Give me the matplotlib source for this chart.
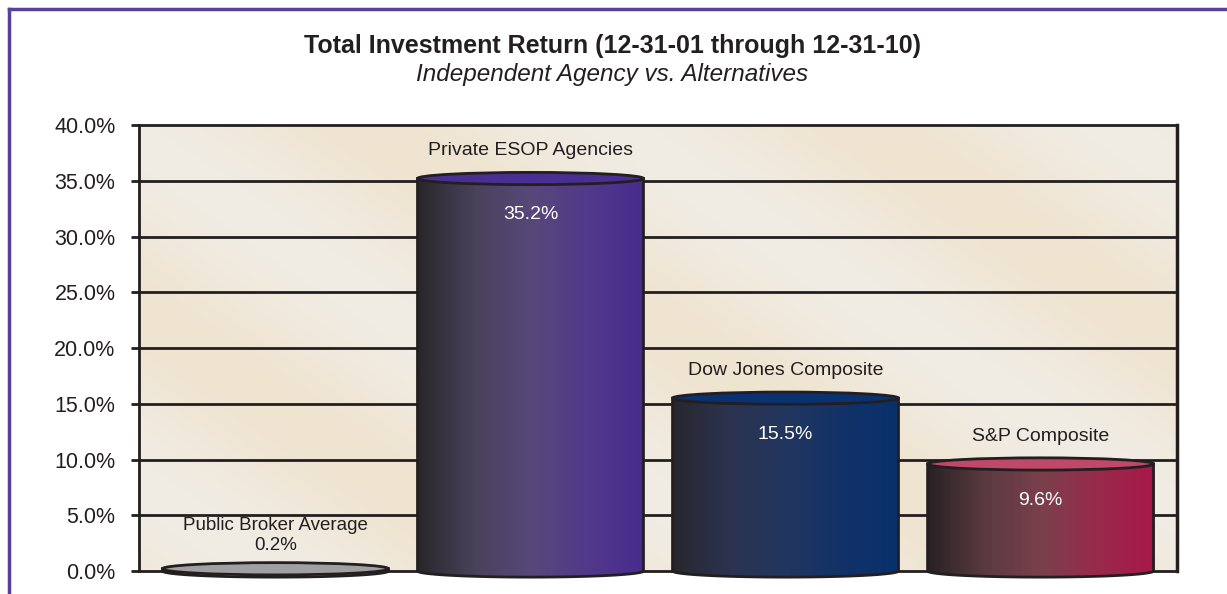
import numpy as np
import matplotlib
matplotlib.use("Agg")
import matplotlib.pyplot as plt
from matplotlib.patches import Ellipse, PathPatch
from matplotlib.path import Path
from matplotlib.colors import LinearSegmentedColormap, to_rgb
from matplotlib.lines import Line2D

plt.rcParams['font.family'] = ['Liberation Sans', 'DejaVu Sans']

categories = ['Public Broker Average', 'Private ESOP Agencies',
              'Dow Jones Composite', 'S&P Composite']
values = [0.2, 35.2, 15.5, 9.6]
value_labels = ['0.2%', '35.2%', '15.5%', '9.6%']
yticks = [0, 5, 10, 15, 20, 25, 30, 35, 40]

# gradient (left -> right) and top colour for each cylinder
grads = [['#5a5a5e', '#9a9a9c', '#a3a3a5'],
         ['#29272b', '#48425a', '#574879', '#52398a', '#472c8e'],
         ['#27272d', '#2c3350', '#22365e', '#123268', '#08306c'],
         ['#282124', '#5a3a40', '#7a404c', '#982a4b', '#a8184a']]
tops = ['#a0a0a2', '#4a2f93', '#0a3272', '#c2486a']
edge = '#231f20'

fig = plt.figure(figsize=(12.27, 5.94), dpi=100, facecolor='w')
W, H = 1227, 594
# axes reach a little below 0 so the cylinder bottoms are not cut off
ymin = -1.0
pxu = (571-125)/40
ax = fig.add_axes([139/W, (H-571-pxu*(-ymin))/H, (1177-139)/W, (571-125+pxu*(-ymin))/H])
ax.set_xlim(-0.535, 3.535)
ax.set_ylim(ymin, 40)
ax.patch.set_visible(False)

# beige background with soft diagonal streaks
nx, ny = 300, 200
xx, yy = np.meshgrid(np.linspace(0, 1, nx), np.linspace(0, 1, ny))
t = 0.5 + 0.5*np.sin((xx*1.6 + yy*1.0)*2*np.pi*1.3)
c1 = np.array(to_rgb('#efe4d0'))
c2 = np.array(to_rgb('#f1ece4'))
bg = c1[None, None, :]*(1-t[..., None]) + c2[None, None, :]*t[..., None]
ax.imshow(bg, extent=(-0.535, 3.535, 0, 40), aspect='auto', origin='lower', zorder=0)

for y in yticks:
    ax.axhline(y, color=edge, lw=2, zorder=1, clip_on=False)

bw = 0.886
h = 0.55  # ellipse half height (data units)
for i, (v, cat, vl) in enumerate(zip(values, categories, value_labels)):
    x0, x1 = i - bw/2, i + bw/2
    th = np.linspace(np.pi, 2*np.pi, 40)
    bottom = np.column_stack([i + bw/2*np.cos(th), h*np.sin(th)])
    verts = np.vstack([[[x0, v]], bottom, [[x1, v]], [[x0, v]]])
    path = Path(verts, closed=True)
    patch = PathPatch(path, facecolor='none', edgecolor=edge, lw=2, zorder=3, clip_on=False)
    ax.add_patch(patch)
    if v > 1:
        cmap = LinearSegmentedColormap.from_list('g%d' % i, grads[i])
        img = ax.imshow(np.linspace(0, 1, 256)[None, :], cmap=cmap, aspect='auto',
                        extent=(x0, x1, -h, v), zorder=2)
        img.set_clip_path(patch)
    ax.add_patch(Ellipse((i, v), bw, 2*h, facecolor=tops[i], edgecolor=edge,
                         lw=2, zorder=4, clip_on=False))
    if v > 3:
        ax.annotate(cat, (i, v), xytext=(0, 20), textcoords='offset points',
                    ha='center', va='center', fontsize=14, color='#231f20', zorder=5)
        ax.annotate(vl, (i, v), xytext=(0, -26), textcoords='offset points',
                    ha='center', va='center', fontsize=14, color='white', zorder=5)
    else:
        ax.annotate(cat + '\n' + vl, (i, v), xytext=(0, 24), textcoords='offset points',
                    ha='center', va='center', fontsize=13.5, color='#231f20',
                    linespacing=1.2, zorder=5)

ax.set_ylim(ymin, 40)
ax.set_xlim(-0.535, 3.535)
ax.set_yticks(yticks)
ax.set_yticklabels(['%.1f%%' % y for y in yticks], fontsize=15.5, color='#231f20')
ax.set_xticks([])
ax.tick_params(axis='y', length=6, width=2, color=edge, pad=11)
for s in ['top', 'bottom']:
    ax.spines[s].set_visible(False)
ax.spines['left'].set_linewidth(2)
ax.spines['right'].set_linewidth(2.5)
ax.spines['left'].set_color(edge)
ax.spines['right'].set_color(edge)
ax.spines['left'].set_bounds(0, 40)
ax.spines['right'].set_bounds(0, 40)

fig.text(612/W, 1-46/H, 'Total Investment Return (12-31-01 through 12-31-10)',
         ha='center', va='center', fontsize=18, fontweight='bold', color='#231f20')
fig.text(612/W, 1-75/H, 'Independent Agency vs. Alternatives',
         ha='center', va='center', fontsize=17.5, style='italic', color='#231f20')

purple = '#5b3f9f'
fig.add_artist(Line2D([9/W, 1], [1-9/H, 1-9/H], color=purple, lw=2.5))
fig.add_artist(Line2D([9/W, 9/W], [0, 1-9/H], color=purple, lw=2.5))

fig.savefig('out.png', dpi=100, facecolor='w')
